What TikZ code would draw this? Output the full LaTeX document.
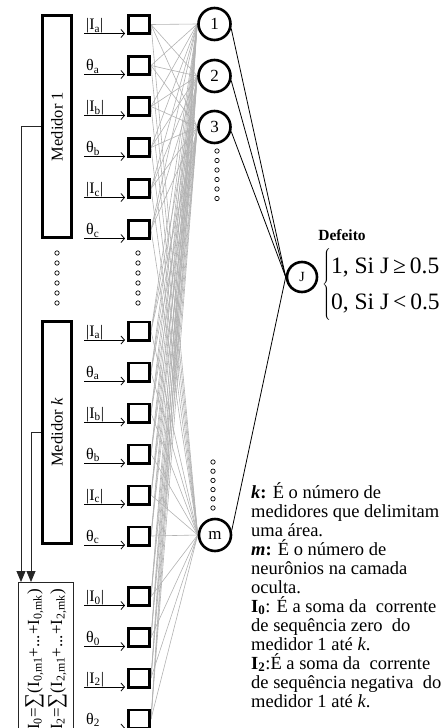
\documentclass[tikz,border=0pt]{standalone}
\usepackage{fontspec}
\setmainfont{Liberation Serif}
\usetikzlibrary{arrows.meta,backgrounds}
\newcommand\lsub[1]{\textsubscript{#1}}

\begin{document}
\begin{tikzpicture}[x=1pt,y=-1pt,
  heavy/.style={draw,line width=2.6pt,inner sep=0pt},
  medbox/.style={heavy,minimum width=29.4pt,minimum height=222.4pt,
    font=\fontsize{16.5}{18}\selectfont},
  cell/.style={heavy,minimum width=21.4pt,minimum height=18.4pt},
  neuron/.style={heavy,circle,minimum size=32pt,font=\fontsize{17}{18}\selectfont},
  outneuron/.style={heavy,circle,minimum size=30pt,font=\fontsize{14}{15}\selectfont},
  inlabel/.style={inner sep=0pt,font=\fontsize{16}{17}\selectfont},
  inarrow/.style={line width=0.8pt,-{Straight Barb[length=3.5pt,width=8pt]},shorten >=2pt},
  feed/.style={line width=0.8pt,black!85,-{Triangle[length=11pt,width=9pt]}},
  weight/.style={line width=0.6pt,black!30},
  outline/.style={line width=0.8pt},
  pt/.style={line width=0.7pt}]
\useasboundingbox (0,0) rectangle (445,728);

% meter blocks
\node[medbox] (med1) at (57,126.5) {\rotatebox{90}{Medidor 1}};
\node[medbox] (medk) at (57,432.5) {\rotatebox{90}{Medidor \textit{k}}};

% summation block
\node[draw,line width=0.8pt,black!85,minimum width=55pt,minimum height=160pt,inner sep=0pt] (sumbox) at (45.5,662) {};
\node[rotate=90,anchor=east,align=right,inner sep=0pt,font=\fontsize{17}{23}\selectfont] (sumtext) at (46,589)
  {I\lsub{0}={\fontsize{21}{21}\selectfont∑}(I\lsub{0,m1}+...+I\lsub{0,mk})\\I\lsub{2}={\fontsize{21}{21}\selectfont∑}(I\lsub{2,m1}+...+I\lsub{2,mk})};

% feeds from the meters into the summation block
\coordinate (f1) at (21,582);
\coordinate (fk) at (31,582);
\draw[feed] (med1.west) -| (f1);
\draw[feed] (medk.west) -| (fk);

% input cells with their arrows and labels
\foreach \nm/\y/\lab in {
  i1/24.5/{|I\lsub{a}|}, i2/65.5/{θ\lsub{a}}, i3/106.5/{|I\lsub{b}|},
  i4/147.5/{θ\lsub{b}}, i5/188.5/{|I\lsub{c}|}, i6/229.5/{θ\lsub{c}},
  i7/331/{|I\lsub{a}|}, i8/372/{θ\lsub{a}}, i9/413/{|I\lsub{b}|},
  i10/454/{θ\lsub{b}}, i11/495/{|I\lsub{c}|}, i12/536/{θ\lsub{c}},
  i13/596.5/{|I\lsub{0}|}, i14/637.5/{θ\lsub{0}}, i15/678/{|I\lsub{2}|},
  i16/719/{θ\lsub{2}}}
{
  \node[cell] (\nm) at (139,\y) {};
  \coordinate (\nm-src) at (84,\y+9);
  \draw[inarrow] (\nm-src) -- ([yshift=-9pt]\nm.west);
  \node[inlabel,anchor=base west] (\nm-lab) at (86,\y+5) {\lab};
}

% hidden layer
\node[neuron] (n1) at (214.5,24) {1};
\node[neuron] (n2) at (214.5,76) {2};
\node[neuron] (n3) at (214.5,127) {3};
\node[neuron] (nm) at (215,535) {m};

% output neuron
\node[outneuron] (J) at (302,277) {J};

% weights input -> hidden
\begin{scope}[on background layer]
  \foreach \s in {i1,i2,i3,i4,i5,i6,i7,i8,i9,i10,i11,i12,i13,i14,i15,i16}
    \foreach \t in {n1,n2,n3,nm}
      \draw[weight] (\s.east) -- (\t.west);
\end{scope}

% hidden -> output
\draw[outline] (n1.-15) -- (J.west);
\draw[outline] (n2.-15) -- (J.west);
\draw[outline] (n3.-15) -- (J.west);
\draw[outline] (nm.15) -- (J.west);

% ellipsis dots
\foreach \y in {253,263,273,283,293,303} {
  \draw[pt] (57,\y) circle (2.2pt);
  \draw[pt] (138,\y) circle (2.2pt);
}
\foreach \y in {151,160.5,170,179.5,189,198.5}
  \draw[pt] (217,\y) circle (2.2pt);
\foreach \y in {462,471.2,480.4,489.6,498.8,508}
  \draw[pt] (213,\y) circle (2.2pt);

% decision rule
\node[font=\fontsize{15.5}{16}\selectfont\bfseries,inner sep=0pt] (defeito) at (342,235) {Defeito};
\node[anchor=west,inner sep=0pt,font=\fontsize{23.5}{36}\selectfont] (rule) at (322,284)
  {$\left\{\vcenter{\hbox{\begin{tabular}{@{}l@{}}1, Si J\,≥\,0.5\\0, Si J\,<\,0.5\end{tabular}}}\right.$};

% legend (anchored at the baseline of its last line)
\node[anchor=base west,align=left,inner sep=0pt,font=\fontsize{18.5}{19}\selectfont] (legend) at (251,707)
  {\textbf{\textit{k}:} É o número de\\
   medidores que delimitam\\
   uma área.\\
   \textbf{\textit{m}:} É o número de\\
   neurônios na camada\\
   oculta.\\
   \textbf{I\lsub{0}}: É a soma da~ corrente\\
   de sequência zero~ do\\
   medidor 1 até \textit{k}.\\
   \textbf{I\lsub{2}}:É a soma da~ corrente\\
   de sequência negativa~ do\\
   medidor 1 até \textit{k}.};
\end{tikzpicture}
\end{document}
